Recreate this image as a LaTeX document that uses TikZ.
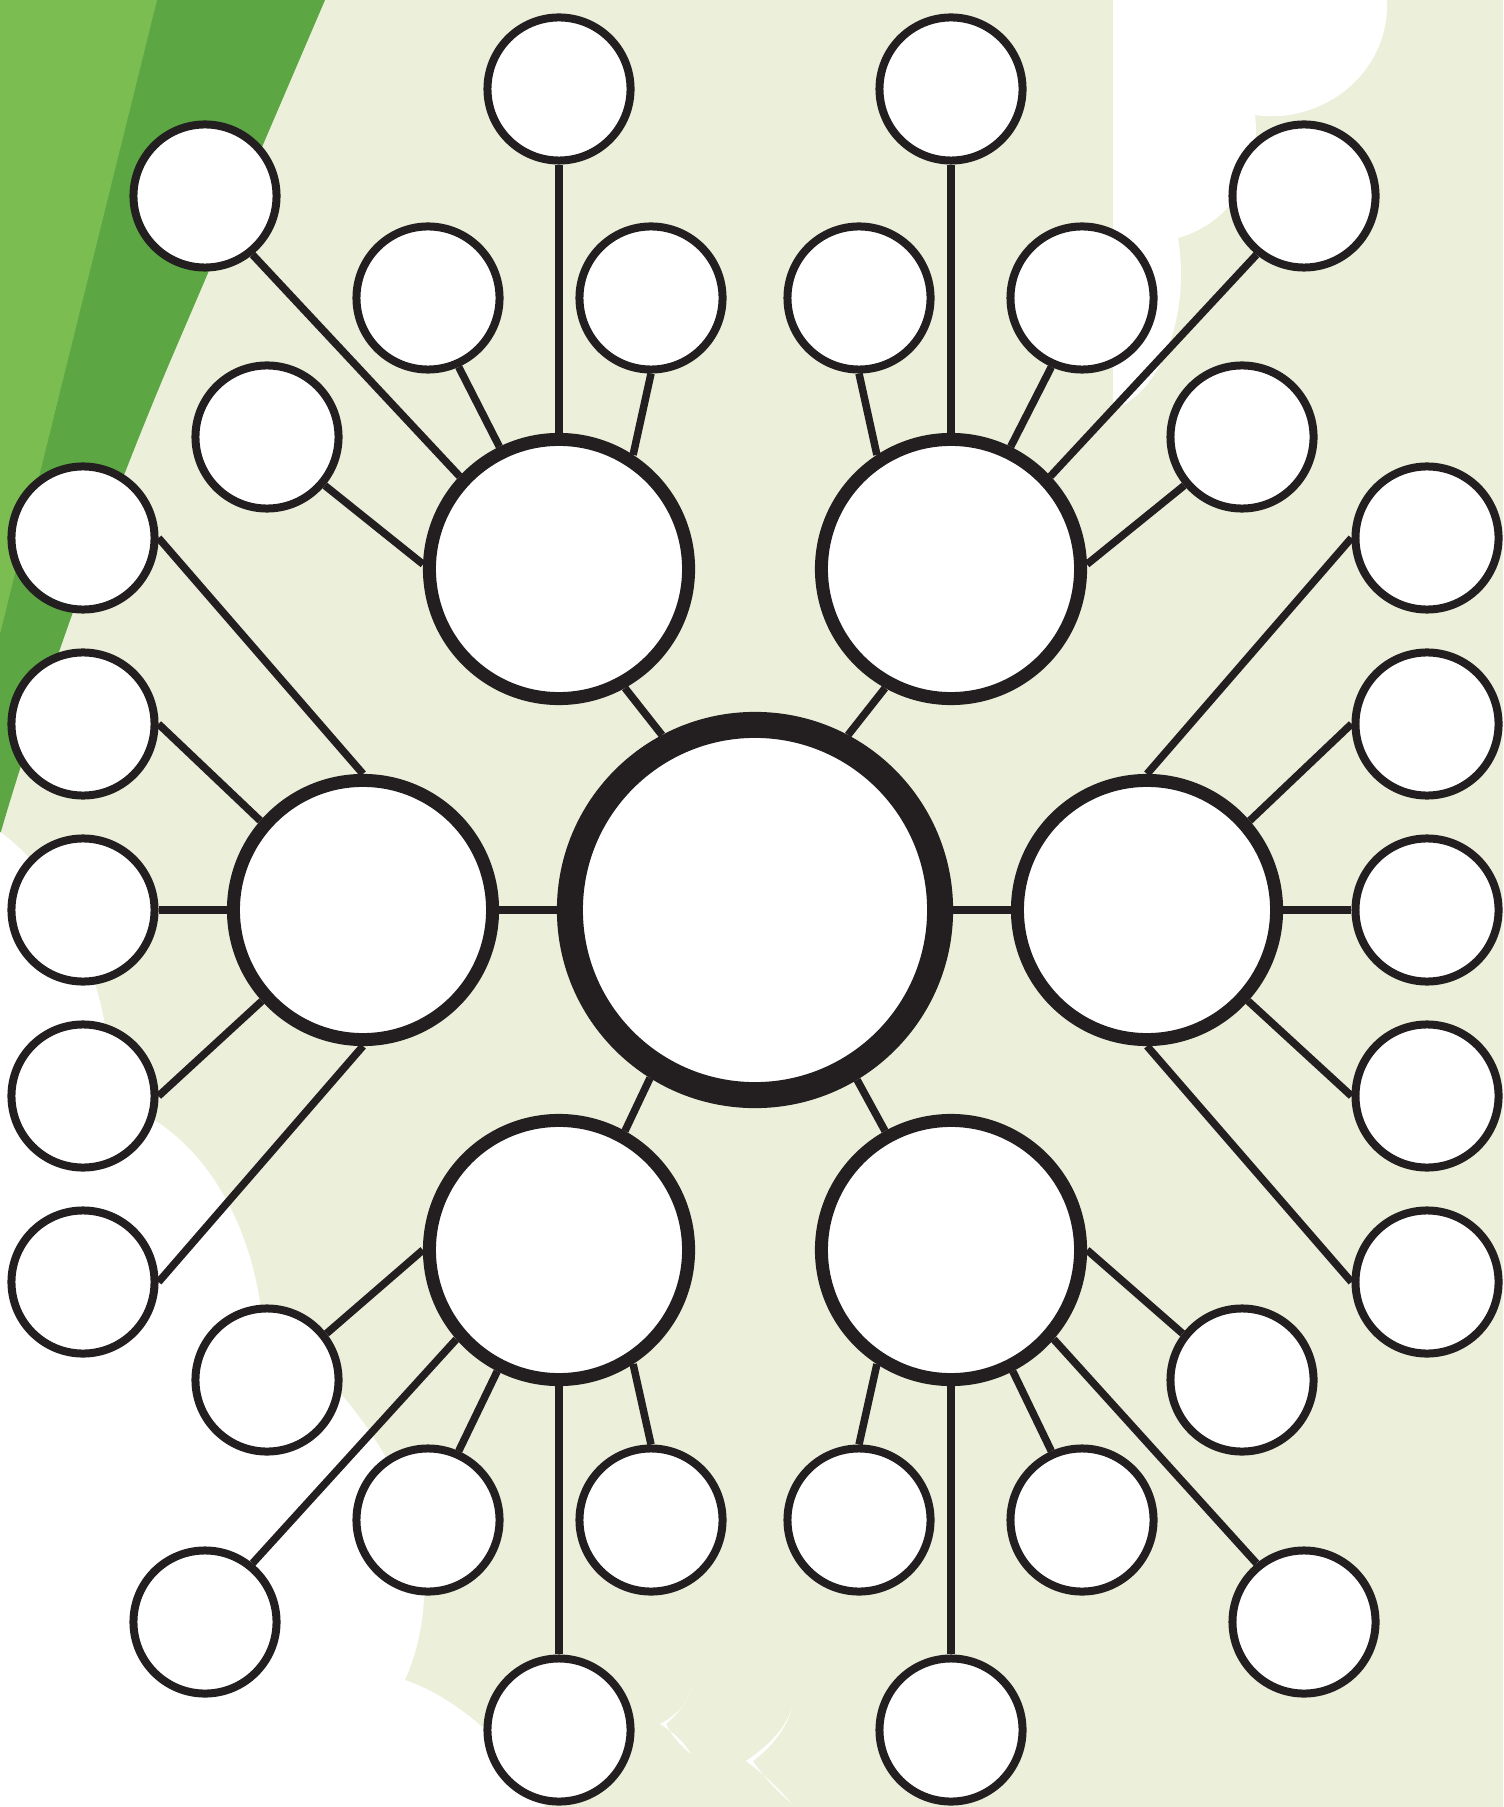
\documentclass[tikz,border=0pt]{standalone}
\usepackage{xcolor}
\usepackage{tikz}
\definecolor{paleleaf}{RGB}{236,240,218}
\definecolor{darkleaf}{RGB}{92,167,68}
\definecolor{lightleaf}{RGB}{123,189,81}
\definecolor{ink}{RGB}{35,31,32}

\begin{document}
\begin{tikzpicture}[x=0.01cm, y=-0.01cm,
    leaf/.style={circle, draw=ink, fill=white, line width=0.08cm, minimum size=1.43cm, inner sep=0pt},
    hub/.style={circle, draw=ink, fill=white, line width=0.13cm, minimum size=2.59cm, inner sep=0pt},
    core/.style={circle, draw=ink, fill=white, line width=0.26cm, minimum size=3.7cm, inner sep=0pt},
    spoke/.style={draw=ink, line width=0.075cm}]
    \useasboundingbox (0,0) rectangle (1503,1807);

    % background
    \fill[paleleaf] (0,0) rectangle (1503,1807);
    \fill[darkleaf] (0,0) -- (325,0) -- (175,350) .. controls (100,525) and (30,730) .. (0,835) -- cycle;
    \fill[lightleaf] (0,0) -- (157,0) -- (0,634) -- cycle;
    \fill[white] (0,832) .. controls (55,870) and (100,960) .. (110,1060) -- (140,1112)
        .. controls (215,1150) and (255,1240) .. (262,1320)
        .. controls (355,1390) and (470,1530) .. (405,1680)
        .. controls (450,1695) and (510,1740) .. (545,1807) -- (0,1807) -- cycle;
    \fill[white] (1113,0) -- (1113,410) .. controls (1165,390) and (1190,310) .. (1178,238)
        .. controls (1225,225) and (1262,180) .. (1255,115)
        .. controls (1320,125) and (1390,75) .. (1387,0) -- cycle;
    \fill[white] (691,1689) .. controls (686,1706) and (675,1716) .. (660,1724)
        .. controls (674,1733) and (684,1742) .. (691,1754)
        .. controls (680,1745) and (672,1736) .. (666,1724)
        .. controls (676,1715) and (686,1705) .. cycle;
    \fill[white] (792,1708) .. controls (784,1732) and (765,1748) .. (746,1761)
        .. controls (765,1775) and (780,1790) .. (792,1804)
        .. controls (776,1790) and (762,1775) .. (753,1761)
        .. controls (770,1748) and (786,1730) .. cycle;

    % centre and hubs
    \node[core] (c) at (755,910) {};
    \node[hub] (tl) at (559,569) {};
    \node[hub] (tr) at (951,569) {};
    \node[hub] (l) at (363,910) {};
    \node[hub] (r) at (1147,910) {};
    \node[hub] (bl) at (559,1250) {};
    \node[hub] (br) at (951,1250) {};

    % outer circles
    \node[leaf] (tl1) at (559,89) {};
    \node[leaf] (tl2) at (428,298) {};
    \node[leaf] (tl3) at (651,298) {};
    \node[leaf] (tl4) at (205,196) {};
    \node[leaf] (tl5) at (267,437) {};
    \node[leaf] (tr1) at (951,89) {};
    \node[leaf] (tr2) at (859,298) {};
    \node[leaf] (tr3) at (1082,298) {};
    \node[leaf] (tr4) at (1304,196) {};
    \node[leaf] (tr5) at (1242,437) {};
    \foreach \i/\y in {1/538,2/724,3/910,4/1096,5/1282} {
        \node[leaf] (l\i) at (83,\y) {};
        \node[leaf] (r\i) at (1427,\y) {};
    }
    \node[leaf] (bl1) at (267,1380) {};
    \node[leaf] (bl2) at (205,1622) {};
    \node[leaf] (bl3) at (428,1520) {};
    \node[leaf] (bl4) at (651,1520) {};
    \node[leaf] (bl5) at (559,1730) {};
    \node[leaf] (br1) at (1242,1380) {};
    \node[leaf] (br2) at (1304,1622) {};
    \node[leaf] (br3) at (1082,1520) {};
    \node[leaf] (br4) at (859,1520) {};
    \node[leaf] (br5) at (951,1730) {};

    % spokes
    \draw[spoke] (tl1.-90) -- (tl.90);
    \draw[spoke] (tl2.-66) -- (tl.116);
    \draw[spoke] (tl3.-90) -- (tl.57);
    \draw[spoke] (tl4.-51) -- (tl.137);
    \draw[spoke] (tl5.-40) -- (tl.178);
    \draw[spoke] (tl.-61) -- (c.118);

    \draw[spoke] (tr1.-90) -- (tr.90);
    \draw[spoke] (tr2.-90) -- (tr.123);
    \draw[spoke] (tr3.-114) -- (tr.64);
    \draw[spoke] (tr4.-129) -- (tr.43);
    \draw[spoke] (tr5.-140) -- (tr.2);
    \draw[spoke] (tr.-119) -- (c.62);

    \draw[spoke] (l1.0) -- (l.90);
    \draw[spoke] (l2.0) -- (l.139);
    \draw[spoke] (l3.0) -- (l.180);
    \draw[spoke] (l4.0) -- (l.222);
    \draw[spoke] (l5.0) -- (l.270);
    \draw[spoke] (l.0) -- (c.180);

    \draw[spoke] (r1.180) -- (r.90);
    \draw[spoke] (r2.180) -- (r.41);
    \draw[spoke] (r3.180) -- (r.0);
    \draw[spoke] (r4.180) -- (r.-42);
    \draw[spoke] (r5.180) -- (r.-90);
    \draw[spoke] (r.180) -- (c.0);

    \draw[spoke] (bl1.38) -- (bl.180);
    \draw[spoke] (bl2.51) -- (bl.221);
    \draw[spoke] (bl3.66) -- (bl.243);
    \draw[spoke] (bl4.90) -- (bl.-57);
    \draw[spoke] (bl5.90) -- (bl.270);
    \draw[spoke] (bl.61) -- (c.-122);

    \draw[spoke] (br1.142) -- (br.0);
    \draw[spoke] (br2.129) -- (br.-41);
    \draw[spoke] (br3.114) -- (br.-63);
    \draw[spoke] (br4.90) -- (br.237);
    \draw[spoke] (br5.90) -- (br.270);
    \draw[spoke] (br.119) -- (c.-59);
\end{tikzpicture}
\end{document}
